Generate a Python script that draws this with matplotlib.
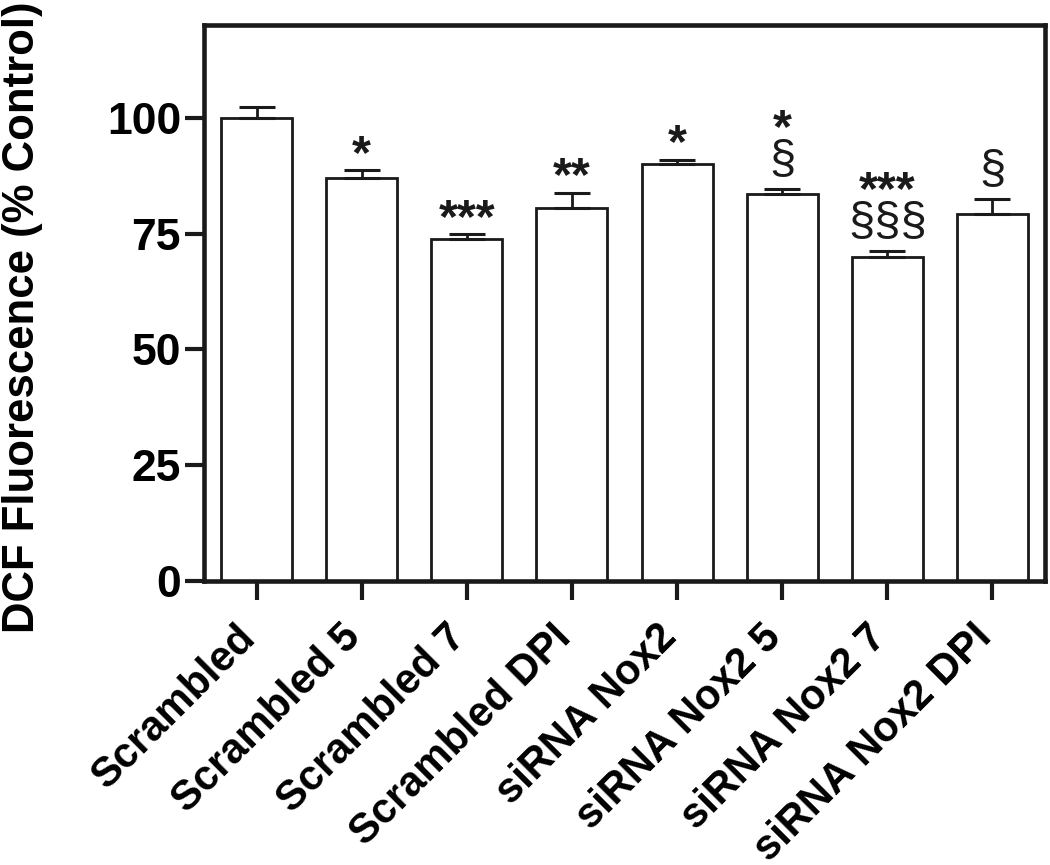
import matplotlib
matplotlib.use('Agg')
import matplotlib.pyplot as plt
from matplotlib.transforms import ScaledTranslation

plt.rcParams['font.family'] = ['Liberation Sans', 'DejaVu Sans']

# Data
groups = ['Scrambled', 'Scrambled 5', 'Scrambled 7', 'Scrambled DPI',
          'siRNA Nox2', 'siRNA Nox2 5', 'siRNA Nox2 7', 'siRNA Nox2 DPI']
means = [100.0, 87.0, 73.9, 80.4, 89.9, 83.5, 70.0, 79.2]
sems = [2.2, 1.7, 0.9, 3.4, 1.0, 1.0, 1.2, 3.2]
stars = ['', '*', '***', '**', '*', '*', '***', '']
sections = ['', '', '', '', '', '§', '§§§', '§']
yticks = [0, 25, 50, 75, 100]

fig = plt.figure(figsize=(10.5, 8.65), dpi=100)
ax = fig.add_axes([204 / 1050, 1 - 581 / 865, (1045 - 204) / 1050, (581 - 25) / 865])

x = list(range(len(groups)))
ax.bar(x, means, width=0.675, color='white', edgecolor='#1a1a1a', linewidth=2.0, zorder=2)
ax.errorbar(x, means, yerr=[[0] * len(sems), sems], fmt='none', ecolor='#1a1a1a',
            elinewidth=2.0, capsize=13, capthick=2.2, zorder=3)

# significance markers
for i in x:
    top = means[i] + sems[i]
    base = top + 0.5
    if sections[i]:
        base = top + 3.7
        ax.text(i, base, sections[i], ha='center', va='baseline', fontsize=34,
                color='#1a1a1a', zorder=4)
        base += 6.5
    if stars[i]:
        ax.text(i, base, stars[i], ha='center', va='baseline', fontsize=35,
                fontweight='bold', color='#1a1a1a', zorder=4)

ax.set_xlim(-0.5, 7.5)
ax.set_ylim(0, 120)
ax.set_yticks(yticks)
ax.set_yticklabels([str(v) for v in yticks], fontsize=32, fontweight='bold')
ax.set_xticks(x)
ax.set_xticklabels(groups, rotation=45, ha='right', va='center', rotation_mode='anchor',
                   fontsize=30, fontweight='bold')
ax.tick_params(axis='both', direction='out', length=13.5, width=3, color='#1a1a1a', pad=3)
ax.tick_params(axis='x', pad=24)
shift = ScaledTranslation(-7 / 100, 2 / 100, fig.dpi_scale_trans)
for lab in ax.get_xticklabels():
    lab.set_transform(lab.get_transform() + shift)
for s in ax.spines.values():
    s.set_linewidth(3.3)
    s.set_color('#1a1a1a')

ax.set_ylabel('DCF Fluorescence (% Control)', fontsize=31.5, fontweight='bold')
ax.yaxis.set_label_coords(-161 / 841, 0.475)

fig.savefig('out.png', dpi=100)
